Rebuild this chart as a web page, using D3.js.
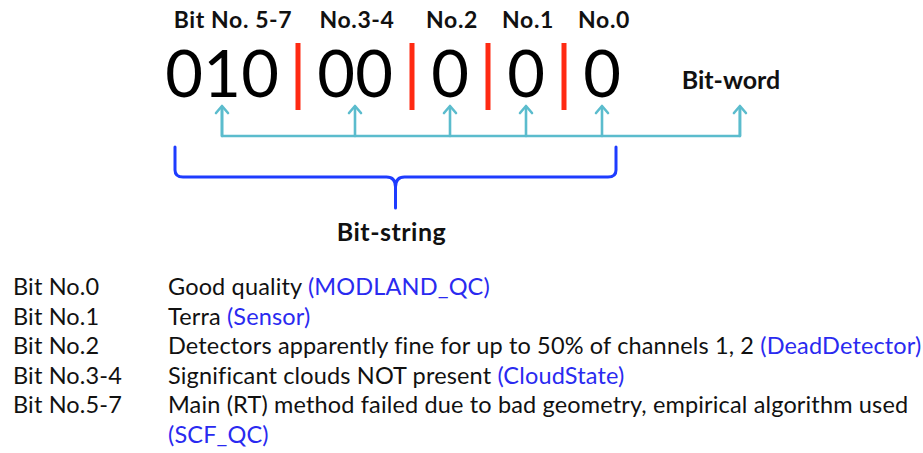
<!DOCTYPE html>
<html><head><meta charset="utf-8">
<script src="https://cdn.jsdelivr.net/npm/d3@7"></script>
<style>html,body{margin:0;padding:0;background:#fff;}svg{display:block;}</style>
</head><body>
<script>
// ---- data ----
const groupLabels = ["Bit No. 5-7", "No.3-4", "No.2", "No.1", "No.0"];
const groupBits = ["010", "00", "0", "0", "0"];
const rowLabels = ["Bit No.0", "Bit No.1", "Bit No.2", "Bit No.3-4", "Bit No.5-7"];
const rowMeanings = [
  "Good quality",
  "Terra",
  "Detectors apparently fine for up to 50% of channels 1, 2",
  "Significant clouds NOT present",
  "Main (RT) method failed due to bad geometry, empirical algorithm used"
];
const rowFields = ["MODLAND_QC", "Sensor", "DeadDetector", "CloudState", "SCF_QC"];
const wordLabel = "Bit-word";
const stringLabel = "Bit-string";

// ---- layout ----
const W = 923, H = 453;
const svg = d3.select("body").append("svg").attr("width", W).attr("height", H);
const FONT = "Lato, 'Open Sans', sans-serif";
const TEAL = "#5bbccd", RED = "#ff2a12", BRACE = "#1e3cff", FIELD = "#2a2af0";

// slots: each digit and each separator occupies one slot
const digits = [], seps = [], groups = [];
let slot = 0;
groupBits.forEach((g, gi) => {
  const start = slot;
  for (const ch of g) { digits.push({ ch, slot }); slot++; }
  groups.push({ label: groupLabels[gi], center: (start + slot - 1) / 2 });
  if (gi < groupBits.length - 1) { seps.push(slot); slot++; }
});
const x = d3.scaleLinear().domain([0, slot - 1]).range([184, 602]);

// group labels
svg.append("g").selectAll("text").data(groups).join("text")
  .attr("x", (d, i) => x(d.center) + (i === 0 ? 11 : 2))
  .attr("y", 28)
  .attr("text-anchor", "middle")
  .attr("font-family", FONT).attr("font-weight", 700).attr("font-size", 23)
  .attr("letter-spacing", 0.6)
  .attr("fill", "#111")
  .text(d => d.label);

// digits
svg.append("g").selectAll("text").data(digits).join("text")
  .attr("x", d => x(d.slot)).attr("y", 97)
  .attr("text-anchor", "middle")
  .attr("font-family", FONT).attr("font-size", 65).attr("fill", "#000")
  .text(d => d.ch);

// red separators
svg.append("g").selectAll("rect").data(seps).join("rect")
  .attr("x", d => x(d) - 2.5).attr("y", 43).attr("width", 5).attr("height", 67)
  .attr("fill", RED);

// teal arrows
const lineY = 136, tipY = 106;
const wordX = x(14.63);
const arrowXs = groups.map(g => x(g.center)).concat([wordX]);
const ag = svg.append("g").attr("stroke", TEAL).attr("stroke-width", 2.6).attr("fill", "none")
  .attr("stroke-linecap", "round").attr("stroke-linejoin", "round");
ag.append("path").attr("d", `M${arrowXs[0]},${tipY + 2}V${lineY}H${wordX}V${tipY + 2}`);
arrowXs.forEach(ax => {
  ag.append("path").attr("d", `M${ax},${lineY}V${tipY + 1}`);
  ag.append("path").attr("d", `M${ax - 6},${tipY + 7}L${ax},${tipY}L${ax + 6},${tipY + 7}`);
});

svg.append("text").attr("x", 731).attr("y", 89).attr("text-anchor", "middle")
  .attr("font-family", FONT).attr("font-weight", 700).attr("font-size", 25).attr("fill", "#111")
  .text(wordLabel);

// blue brace
const bL = x(0) - 9, bR = x(slot - 1) + 14, bM = (bL + bR) / 2;
const bTop = 147, bY = 177, bTip = 208;
svg.append("path")
  .attr("d", `M${bL},${bTop}V${bY - 7}Q${bL},${bY} ${bL + 8},${bY}H${bM - 9}Q${bM},${bY} ${bM},${bY + 10}V${bTip}`
    + `M${bR},${bTop}V${bY - 7}Q${bR},${bY} ${bR - 8},${bY}H${bM + 9}Q${bM},${bY} ${bM},${bY + 10}`)
  .attr("fill", "none").attr("stroke", BRACE).attr("stroke-width", 3).attr("stroke-linecap", "round");

svg.append("text").attr("x", bM - 4).attr("y", 241).attr("text-anchor", "middle")
  .attr("font-family", FONT).attr("font-weight", 700).attr("font-size", 25).attr("letter-spacing", 0.5)
  .attr("fill", "#111")
  .text(stringLabel);

// legend rows
const y = d3.scaleLinear().domain([0, 1]).range([295, 324.5]);
const rows = rowLabels.map((l, i) => ({ l, m: rowMeanings[i], f: rowFields[i], i }));
const rg = svg.append("g").attr("font-family", FONT).attr("font-size", 23.5)
  .attr("letter-spacing", 0.15).attr("fill", "#111");
rg.selectAll("text.lab").data(rows).join("text").attr("class", "lab")
  .attr("x", 13).attr("y", d => y(d.i)).text(d => d.l);
rows.forEach(d => {
  if (d.i < rows.length - 1) {
    const t = rg.append("text").attr("x", 168).attr("y", y(d.i));
    t.append("tspan").text(d.m + " ");
    t.append("tspan").attr("fill", FIELD).text("(" + d.f + ")");
  } else {
    rg.append("text").attr("x", 168).attr("y", y(d.i)).text(d.m);
    rg.append("text").attr("x", 168).attr("y", y(d.i + 1)).attr("fill", FIELD).text("(" + d.f + ")");
  }
});
</script>
</body></html>
